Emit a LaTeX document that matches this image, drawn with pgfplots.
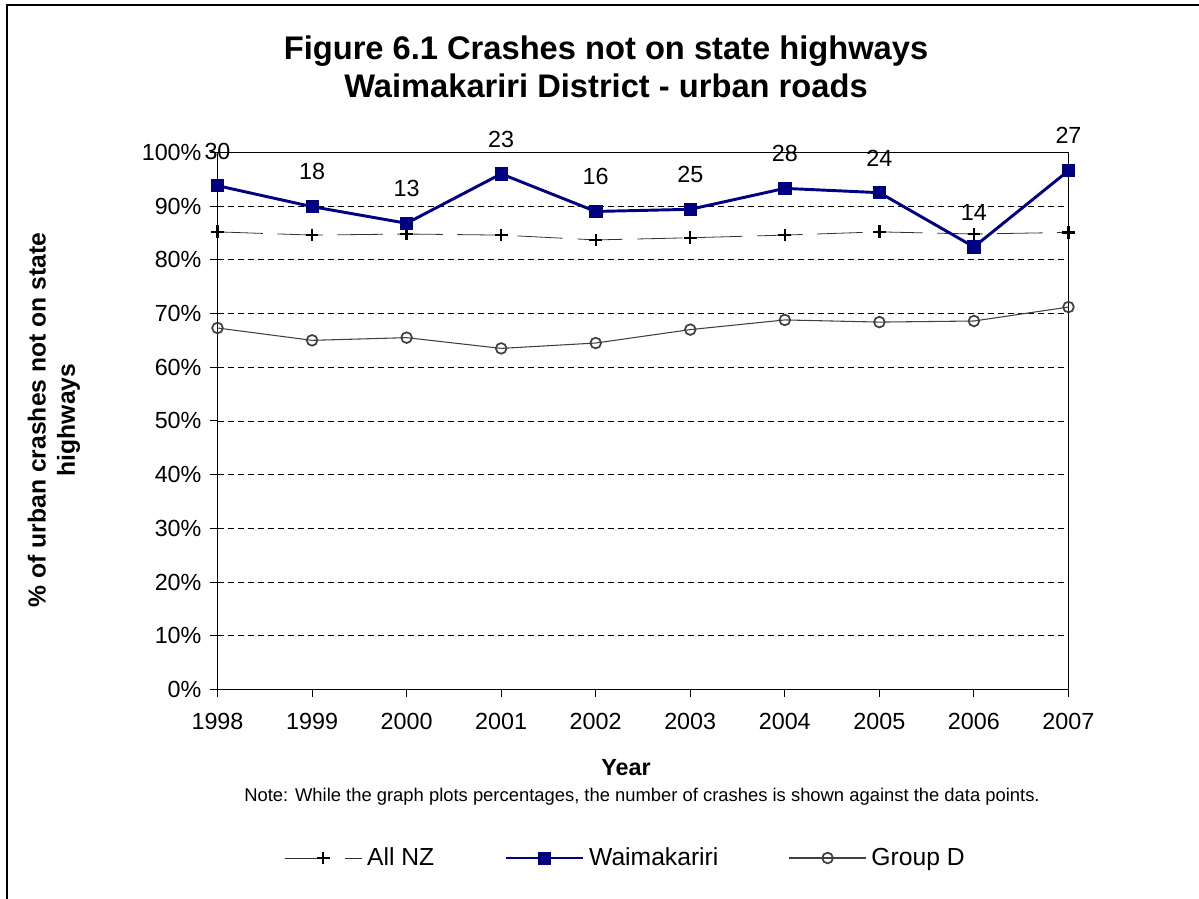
\documentclass[border=0pt]{standalone}
\usepackage{pgfplots}
\pgfplotsset{compat=1.18}
\usepackage{pgfplotstable}
\usepackage{fontspec}
\setmainfont{Liberation Sans}

\definecolor{navy}{RGB}{0,0,128}
\definecolor{grpd}{RGB}{64,64,64}

% year, All NZ, Waimakariri, Group D, crashes (Waimakariri)
\pgfplotstableread{
year allnz waim grpd n
1998 85.2 93.8 67.3 30
1999 84.6 89.9 65.0 18
2000 84.8 86.8 65.5 13
2001 84.6 96.0 63.5 23
2002 83.7 89.0 64.5 16
2003 84.1 89.4 67.0 25
2004 84.6 93.3 68.8 28
2005 85.2 92.5 68.4 24
2006 84.8 82.4 68.6 14
2007 85.1 96.6 71.2 27
}\crashdata

\begin{document}
\begin{tikzpicture}[x=0.75pt,y=0.75pt]
\path[use as bounding box] (0,0) rectangle (1199,899);
\draw[line width=1.5pt] (7,0) -- (7,894) -- (1199,894);

\begin{axis}[
  at={(163.125pt,157.2pt)}, anchor=south west,
  scale only axis, width=638.25pt, height=402.75pt,
  xmin=1998, xmax=2007, ymin=0, ymax=100,
  xtick={1998,...,2007}, ytick={0,10,...,100},
  x tick label style={/pgf/number format/1000 sep={}, yshift=-8.5pt},
  y tick label style={xshift=-2.5pt},
  yticklabel={\pgfmathprintnumber{\tick}\%},
  /pgf/number format/assume math mode=true,
  tick align=outside, tick pos=left,
  major tick length=6pt,
  tick style={black, line width=0.6pt},
  axis line style={line width=0.6pt},
  ymajorgrids, grid style={black, line width=0.5pt, dash pattern=on 4.5pt off 3pt},
  font=\fontsize{17.5}{21}\selectfont,
  ticklabel style={font=\fontsize{17.5}{21}\selectfont},
  clip=false,
  legend columns=3,
  legend style={draw=none, at={(0.481,-0.314)}, anchor=center,
    font=\fontsize{18.5}{22}\selectfont,
    /tikz/every even column/.append style={column sep=49pt},
    nodes={inner sep=3.5pt}},
  legend image code/.code={\draw[mark repeat=2,mark phase=2] plot coordinates {(0pt,0pt) (29pt,0pt) (58pt,0pt)};},
]
\addplot[black!80, line width=0.6pt, dash pattern=on 34pt off 11pt,
  mark=+, mark size=4.8pt, mark options={solid, black, line width=1.7pt}]
  table[x=year, y=allnz] {\crashdata};
\addlegendentry{All NZ}
\addplot[navy, line width=2.2pt, mark=square*, mark size=4.6pt,
  mark options={solid, line width=0.5pt},
  nodes near coords, point meta=explicit symbolic,
  every node near coord/.append style={black, anchor=base, yshift=20pt,
    font=\fontsize{17.5}{21}\selectfont}]
  table[x=year, y=waim, meta=n] {\crashdata};
\addlegendentry{Waimakariri}
\addplot[grpd, line width=0.8pt, mark=o, mark size=4pt,
  mark options={line width=1.3pt}]
  table[x=year, y=grpd] {\crashdata};
\addlegendentry{Group D}
\end{axis}

\node[font=\bfseries\fontsize{24.5}{30}\selectfont, align=center] at (606,832)
  {Figure 6.1 Crashes not on state highways\\[-2pt]Waimakariri District - urban roads};
\node[font=\bfseries\fontsize{18.5}{22}\selectfont, align=center, rotate=90] at (54,479)
  {\% of urban crashes not on state\\highways};
\node[font=\bfseries\fontsize{17.5}{21}\selectfont] at (626,131) {Year};
\node[font=\fontsize{13.8}{16}\selectfont] at (642,102)
  {Note: While the graph plots percentages, the number of crashes is shown against the data points.};
\end{tikzpicture}
\end{document}
